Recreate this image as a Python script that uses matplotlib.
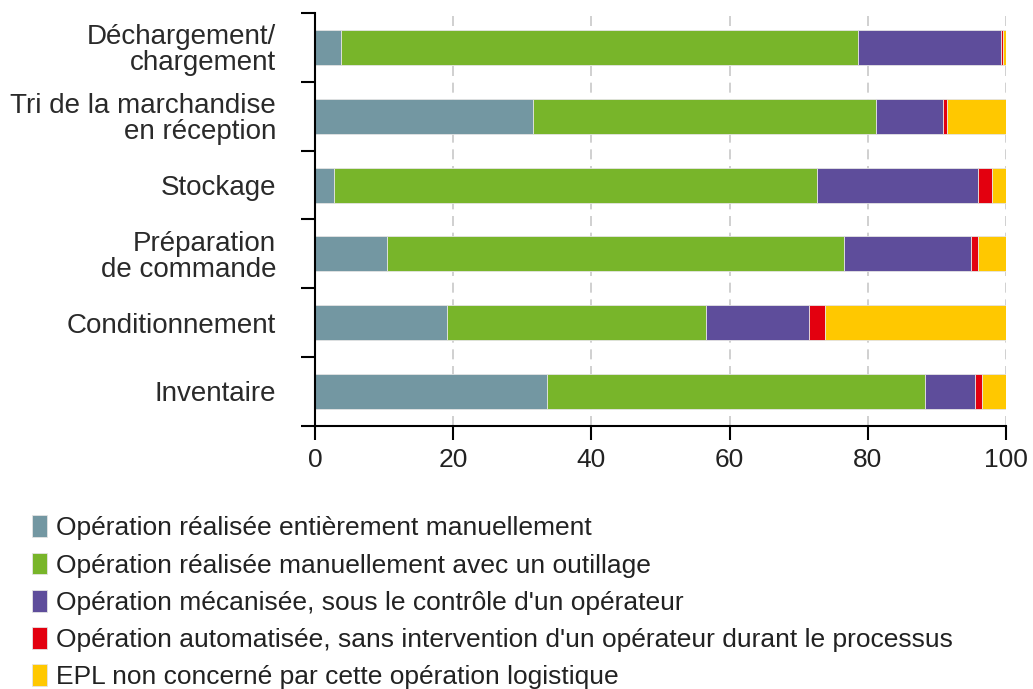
import matplotlib.pyplot as plt
import numpy as np

plt.rcParams['font.family'] = ['Liberation Sans', 'DejaVu Sans']

categories = ['Déchargement/\nchargement', 'Tri de la marchandise\nen réception', 'Stockage',
              'Préparation\nde commande', 'Conditionnement', 'Inventaire']
manuel = [3.8, 31.5, 2.7, 10.4, 19.1, 33.5]
outillage = [74.7, 49.7, 69.9, 66.1, 37.4, 54.7]
mecanise = [20.8, 9.6, 23.3, 18.4, 15.0, 7.3]
automatise = [0.3, 0.7, 2.0, 1.0, 2.3, 1.0]
non_concerne = [0.4, 8.5, 2.1, 4.1, 26.2, 3.5]

series = [manuel, outillage, mecanise, automatise, non_concerne]
labels = ["Opération réalisée entièrement manuellement",
          "Opération réalisée manuellement avec un outillage",
          "Opération mécanisée, sous le contrôle d'un opérateur",
          "Opération automatisée, sans intervention d'un opérateur durant le processus",
          "EPL non concerné par cette opération logistique"]
couleurs = ['#7397a2', '#78b52a', '#5e4d9b', '#e3000f', '#ffc800']
xticks = [0, 20, 40, 60, 80, 100]

fig = plt.figure(figsize=(10.33, 6.89), dpi=100)
ax = fig.add_axes([0.305, 0.382, 0.669, 0.599])

y = np.arange(len(categories))
left = np.zeros(len(categories))
for vals, lab, col in zip(series, labels, couleurs):
    ax.barh(y, vals, left=left, height=0.51, color=col, label=lab,
            edgecolor='#e4e4e4', linewidth=0.6, zorder=2)
    left += np.array(vals)

ax.set_xlim(0, 100)
ax.set_ylim(5.5, -0.5)
ax.set_xticks(xticks)
ax.set_xticklabels([str(v) for v in xticks], fontsize=19, color='#222222')
ax.set_yticks(y)
ax.set_yticklabels(categories, fontsize=20, linespacing=1.0, color='#2a2a2a')
ax.set_yticks(np.arange(-0.5, len(categories)), minor=True)
ax.tick_params(axis='y', which='major', length=0, pad=28)
ax.tick_params(axis='y', which='minor', length=10, width=1.5, direction='out')
ax.tick_params(axis='x', length=10, width=1.5, direction='out', pad=6)

ax.grid(axis='x', linestyle=(0, (6, 4)), color='#c8c8c8', linewidth=1.2, zorder=0)
ax.set_axisbelow(True)
for s in ['top', 'right']:
    ax.spines[s].set_visible(False)
ax.spines['left'].set_linewidth(1.5)
ax.spines['bottom'].set_linewidth(1.5)

leg = fig.legend(loc='upper left', bbox_to_anchor=(0.031, 0.252), frameon=False,
                 fontsize=19, handlelength=0.55, handleheight=0.9, handletextpad=0.35,
                 labelspacing=0.46, borderaxespad=0, borderpad=0)
for t in leg.get_texts():
    t.set_color('#222222')

plt.savefig('out.png', dpi=100)
